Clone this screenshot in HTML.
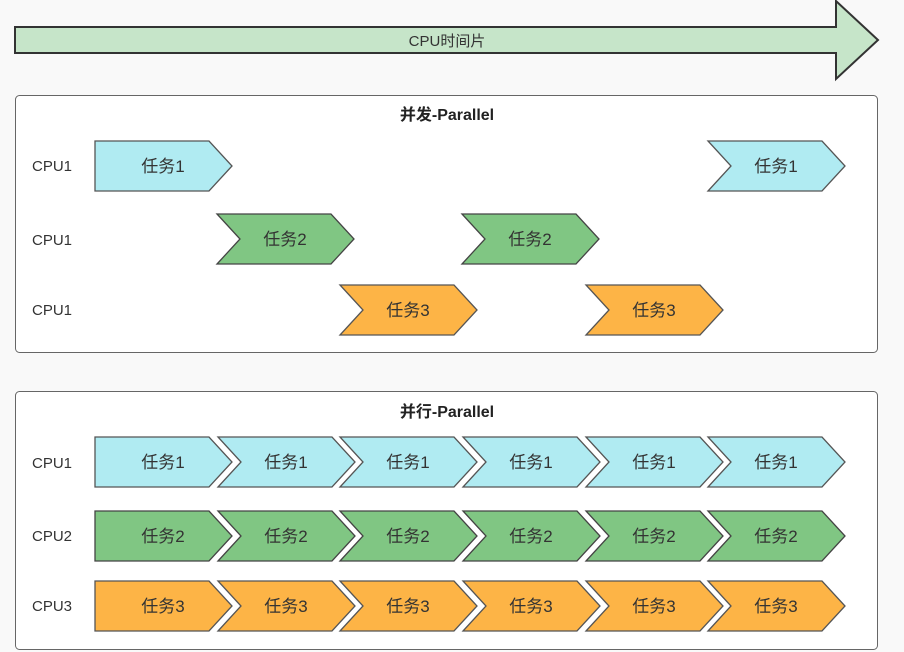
<!DOCTYPE html>
<html><head><meta charset="utf-8"><style>
body{margin:0;background:#f9f9f9;}
svg{display:block;font-family:"Liberation Sans","Noto Sans CJK SC",sans-serif;}
.t{font-size:17px;fill:#333;text-anchor:middle;}
.c{font-size:15px;fill:#333;}
.h{font-size:16px;font-weight:bold;fill:#222;text-anchor:middle;}
.b{fill:#b0ebf2;stroke:#555;stroke-width:1.3}
.g{fill:#80c683;stroke:#444;stroke-width:1.3}
.o{fill:#fdb446;stroke:#555;stroke-width:1.3}
</style></head><body>
<svg width="904" height="652" viewBox="0 0 904 652">
<defs>
<polygon id="f" points="0,0 114,0 137,25 114,50 0,50"/>
<polygon id="n" points="0,0 114,0 137,25 114,50 0,50 23,25"/>
</defs>
<polygon points="15,27 836,27 836,1 878,40 836,79 836,53 15,53" fill="#c6e5c9" stroke="#333" stroke-width="2"/>
<text x="447" y="46" style="font-size:15px;fill:#333;text-anchor:middle">CPU时间片</text>

<rect x="15.5" y="95.5" width="862" height="257" rx="4" fill="#fff" stroke="#666"/>
<text x="447" y="120" class="h">并发-Parallel</text>
<text x="32" y="171" class="c">CPU1</text>
<text x="32" y="245" class="c">CPU1</text>
<text x="32" y="315" class="c">CPU1</text>
<g transform="translate(95,141)"><use href="#f" class="b"/><text x="68" y="31" class="t">任务1</text></g>
<g transform="translate(708,141)"><use href="#n" class="b"/><text x="68" y="31" class="t">任务1</text></g>
<g transform="translate(217,214)"><use href="#n" class="g"/><text x="68" y="31" class="t">任务2</text></g>
<g transform="translate(462,214)"><use href="#n" class="g"/><text x="68" y="31" class="t">任务2</text></g>
<g transform="translate(340,285)"><use href="#n" class="o"/><text x="68" y="31" class="t">任务3</text></g>
<g transform="translate(586,285)"><use href="#n" class="o"/><text x="68" y="31" class="t">任务3</text></g>

<rect x="15.5" y="391.5" width="862" height="258" rx="4" fill="#fff" stroke="#666"/>
<text x="447" y="417" class="h">并行-Parallel</text>
<text x="32" y="468" class="c">CPU1</text>
<text x="32" y="541" class="c">CPU2</text>
<text x="32" y="611" class="c">CPU3</text>

<g transform="translate(95,437)"><use href="#f" class="b"/><text x="68" y="31" class="t">任务1</text></g>
<g transform="translate(218,437)"><use href="#n" class="b"/><text x="68" y="31" class="t">任务1</text></g>
<g transform="translate(340,437)"><use href="#n" class="b"/><text x="68" y="31" class="t">任务1</text></g>
<g transform="translate(463,437)"><use href="#n" class="b"/><text x="68" y="31" class="t">任务1</text></g>
<g transform="translate(586,437)"><use href="#n" class="b"/><text x="68" y="31" class="t">任务1</text></g>
<g transform="translate(708,437)"><use href="#n" class="b"/><text x="68" y="31" class="t">任务1</text></g>

<g transform="translate(95,511)"><use href="#f" class="g"/><text x="68" y="31" class="t">任务2</text></g>
<g transform="translate(218,511)"><use href="#n" class="g"/><text x="68" y="31" class="t">任务2</text></g>
<g transform="translate(340,511)"><use href="#n" class="g"/><text x="68" y="31" class="t">任务2</text></g>
<g transform="translate(463,511)"><use href="#n" class="g"/><text x="68" y="31" class="t">任务2</text></g>
<g transform="translate(586,511)"><use href="#n" class="g"/><text x="68" y="31" class="t">任务2</text></g>
<g transform="translate(708,511)"><use href="#n" class="g"/><text x="68" y="31" class="t">任务2</text></g>

<g transform="translate(95,581)"><use href="#f" class="o"/><text x="68" y="31" class="t">任务3</text></g>
<g transform="translate(218,581)"><use href="#n" class="o"/><text x="68" y="31" class="t">任务3</text></g>
<g transform="translate(340,581)"><use href="#n" class="o"/><text x="68" y="31" class="t">任务3</text></g>
<g transform="translate(463,581)"><use href="#n" class="o"/><text x="68" y="31" class="t">任务3</text></g>
<g transform="translate(586,581)"><use href="#n" class="o"/><text x="68" y="31" class="t">任务3</text></g>
<g transform="translate(708,581)"><use href="#n" class="o"/><text x="68" y="31" class="t">任务3</text></g>
</svg>
</body></html>
